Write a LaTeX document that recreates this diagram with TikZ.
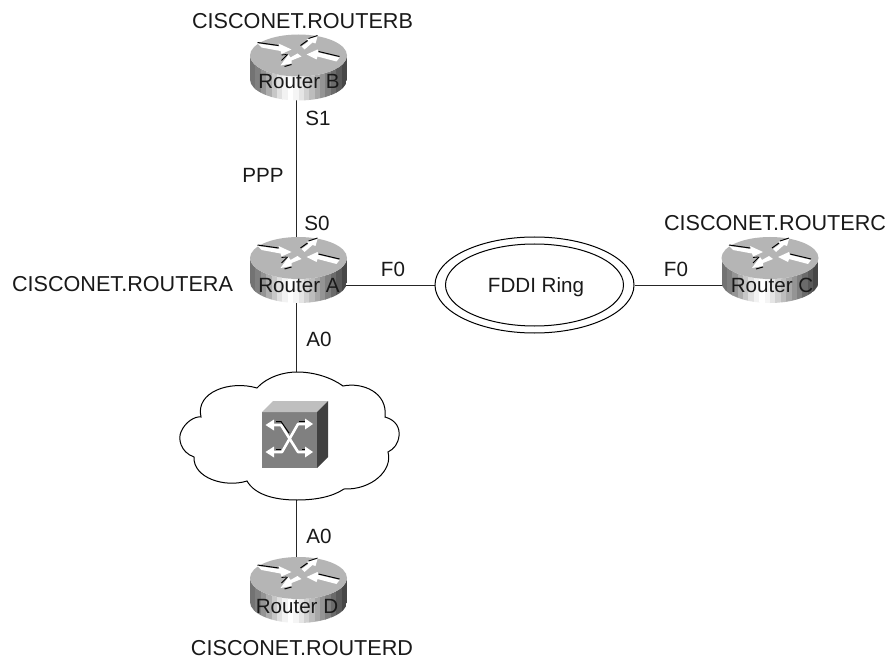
\documentclass[tikz,border=0pt]{standalone}
\usepackage{fontspec}
\setmainfont{Liberation Sans}
\usetikzlibrary{shapes.geometric,calc}
\pgfdeclarelayer{conn}
\pgfdeclarelayer{icon}
\pgfsetlayers{conn,icon,main}
\definecolor{facegray}{gray}{0.71}
\tikzset{
  txt/.style={font=\fontsize{20.6}{24}\selectfont,inner sep=0pt,text height=15pt,text depth=0pt,text=black!90},
  hostname/.style={txt,font=\fontsize{21.6}{24}\selectfont},
  conline/.style={draw=black!85,line width=1pt},
  ringell/.style={ellipse,draw=black,line width=1pt,inner sep=0pt,fill=white},
  pics/routericon/.style={code={
    \begin{scope}
      \clip (-48.5,0) .. controls (-48.5,11.6) and (-26.8,21) .. (0,21) .. controls (26.8,21) and (48.5,11.6) .. (48.5,0) -- (48.5,24) .. controls (48.5,35.6) and (26.8,45) .. (0,45) .. controls (-26.8,45) and (-48.5,35.6) .. (-48.5,24) -- cycle;
      \foreach \n/\g in {0/45,1/50,2/58,3/68,4/78,5/88,6/95,7/100,8/96,9/90,10/82,11/74,12/66,13/58,14/50,15/42,16/35,17/28}{
        \fill[fill=white!\g!black] ({-48.5+\n*5.39},-2) rectangle ({-48.5+(\n+1)*5.39+0.3},48);
      }
    \end{scope}
    \fill[facegray] (0,0) ellipse [x radius=48.5pt,y radius=21pt];
    % arrow 1
    \fill[white] (-41,-12) -- (-19,-9) -- (-20,-12) -- (-7,-6) -- (-17,-1.5) -- (-18,-4.5) -- (-37,-8) -- cycle;
    \draw[black,line width=1pt] (-41,-13) -- (-20,-10);
    \draw[black,line width=0.8pt] (-17,-0.5) -- (-12,-1);
    % arrow 2
    \fill[white] (3,-9) -- (10,-14) -- (8,-16) -- (19,-19) -- (17,-12) -- (14,-13) -- (6,-6) -- cycle;
    \draw[black,line width=1pt] (2,-10) -- (9,-15);
    \draw[black,line width=0.8pt] (10,-17) -- (19,-20);
    % arrow 3
    \fill[white] (8,-1) -- (19,-6) -- (20,-3) -- (41,2) -- (38,6) -- (19,1) -- (18,4) -- cycle;
    \draw[black,line width=1pt] (20,-4) -- (41,1);
    % arrow 4
    \fill[white] (-1,-2) -- (-8,2) -- (-10,-1) -- (-18,10) -- (-7,8) -- (-7,5) -- (3,1) -- cycle;
    \draw[black,line width=1pt] (-14,11) -- (-7,9);
    \draw[black,line width=0.8pt] (-17,5) -- (-11,-1);
  }},
}
\begin{document}
\begin{tikzpicture}[x=1pt,y=-1pt]
\useasboundingbox (0,0) rectangle (891,660);

% router labels (named nodes the connectors attach to)
\node[txt] (rb) at (296,81) {\hspace{6pt}Router B};
\node[txt] (ra) at (296,285) {\hspace{6pt}Router A};
\node[txt] (rc) at (772,285) {Router C};
\node[txt] (rd) at (296,606) {\hspace{2pt}Router D};

% ring
\node[ringell,minimum width=199pt,minimum height=96pt] (ringout) at (534.5,285) {};
\node[ringell,minimum width=178pt,minimum height=82pt] (ringin) at (534.5,285) {};
\node[txt] (ringtxt) at (536,285) {FDDI Ring};

% cloud ports
\coordinate (cloudtop) at (296,372);
\coordinate (cloudbot) at (296,500);

% host names
\node[hostname] (nb) at (302.5,21.5) {CISCONET.ROUTERB};
\node[hostname] (na) at (122.5,284) {CISCONET.ROUTERA};
\node[hostname] (nc) at (775,223) {CISCONET.ROUTERC};
\node[hostname] (nd) at (302,648) {CISCONET.ROUTERD};

% interface labels
\node[txt] (s1) at (318,118) {S1};
\node[txt] (ppp) at (263,175) {PPP};
\node[txt] (s0) at (317,223) {S0};
\node[txt] (f0a) at (393,269) {F0};
\node[txt] (a0a) at (319,339) {A0};
\node[txt] (f0c) at (676,269) {F0};
\node[txt] (a0d) at (319,536) {A0};

\begin{pgfonlayer}{conn}
  \fill[white] (0,0) rectangle (891,660);
  \draw[conline] (rb) -- (ra);
  \draw[conline] (ra) -- (ringout);
  \draw[conline] (ringout) -- (rc);
  \draw[conline] (ra) -- (cloudtop);
  \draw[conline] (cloudbot) -- (rd);
\end{pgfonlayer}

\begin{pgfonlayer}{icon}
  \pic at (298.5,55.5) {routericon};
  \pic at (298.5,258) {routericon};
  \pic at (770,258) {routericon};
  \pic at (298.5,578) {routericon};
  % cloud
  \draw[fill=white,draw=black,line width=1pt]
    (257,388) .. controls (268,376) and (285,372) .. (297,372)
    .. controls (315,372) and (332,378) .. (343,386)
    .. controls (362,382) and (388,392) .. (385,417)
    .. controls (396,420) and (400,428) .. (399,436)
    .. controls (398,444) and (394,449) .. (388,452)
    .. controls (393,470) and (372,490) .. (344,489)
    .. controls (332,497) and (315,500) .. (297,500)
    .. controls (275,500) and (255,495) .. (247,481)
    .. controls (225,488) and (193,478) .. (194,457)
    .. controls (180,452) and (178,438) .. (181,432)
    .. controls (185,422) and (195,416) .. (201,417)
    .. controls (195,392) and (230,380) .. (257,388) -- cycle;
  % switch cube
  \fill[fill=white!50!black] (262,412) rectangle (317,468);
  \fill[white!75!black] (262,412) -- (273,401) -- (328,401) -- (317,412) -- cycle;
  \fill[white!25!black] (317,412) -- (328,401) -- (328,457) -- (317,468) -- cycle;
  % switch arrows
  \draw[black,line width=1pt] (276,421.5) -- (281,421.5) -- (289,433);
  \draw[black,line width=1pt] (299,421.5) -- (306,421.5);
  \draw[black,line width=1pt] (276,449) -- (281,449);
  \draw[black,line width=1pt] (302,449) -- (309,449);
  \draw[white,line width=2.6pt,line join=round] (274,425) -- (281,425) -- (298,452) -- (306,452);
  \draw[white,line width=2.6pt,line join=round] (306,424) -- (298,424) -- (282,452) -- (274,452);
  \fill[white] (265.5,425) -- (274,419.5) -- (274,430.5) -- cycle;
  \fill[white] (265.5,452) -- (274,446.5) -- (274,457.5) -- cycle;
  \fill[white] (313,424) -- (305,418.5) -- (305,429.5) -- cycle;
  \fill[white] (313,452) -- (305,446.5) -- (305,457.5) -- cycle;
\end{pgfonlayer}
\end{tikzpicture}
\end{document}
